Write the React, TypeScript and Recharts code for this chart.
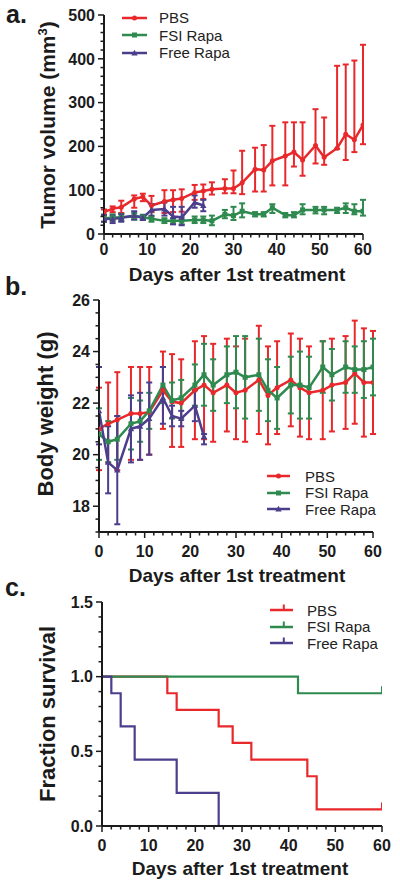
import React from 'react';
import { LineChart, Line, XAxis, YAxis, ErrorBar, Legend } from 'recharts';

const FONT = '"Liberation Sans", Arial, sans-serif';
const RED = '#e8282b';
const GREEN = '#2f8a4f';
const PURPLE = '#4c3e8c';
const INK = '#1b1b1b';

// a. tumor volume (mm3)
const tumorDays = [0, 2, 4, 7, 9, 11, 14, 16, 18, 21, 23, 25, 28, 30, 32, 35, 37, 39, 42, 44, 46, 49, 51, 54, 56, 58, 60];
const tumorPbs = [50, 58, 61, 80, 85, 65, 74, 78, 81, 95, 98, 102, 104, 104, 117, 148, 146, 167, 178, 187, 169, 202, 175, 196, 228, 215, 249];
const tumorPbsLow = [42, 50, 48, 60, 75, 50, 48, 50, 51, 78, 80, 90, 93, 93, 91, 97, 97, 111, 111, 154, 133, 161, 158, 194, 169, 187, 205];
const tumorPbsHigh = [56, 63, 76, 88, 92, 87, 100, 100, 102, 112, 113, 118, 125, 145, 190, 197, 203, 247, 255, 255, 255, 285, 266, 384, 387, 396, 432];
const tumorFsi = [36, 37, 38, 40, 38, 35, 30, 30, 30, 32, 32, 30, 45, 42, 52, 45, 45, 60, 43, 43, 55, 55, 55, 55, 60, 52, 52];
const tumorFsiLow = [28, 30, 30, 33, 33, 28, 25, 24, 22, 25, 25, 20, 36, 32, 38, 40, 40, 48, 38, 38, 45, 47, 45, 48, 48, 45, 42];
const tumorFsiHigh = [44, 45, 46, 48, 44, 42, 36, 36, 38, 40, 40, 42, 55, 62, 70, 50, 50, 68, 48, 50, 68, 62, 62, 60, 70, 68, 78];
const freeDays = [0, 2, 4, 7, 9, 11, 14, 16, 18, 21, 23];
const tumorFree = [35, 34, 37, 42, 37, 55, 57, 40, 38, 72, 65];
const tumorFreeLow = [28, 25, 28, 33, 32, 40, 42, 22, 20, 60, 52];
const tumorFreeHigh = [44, 42, 45, 52, 42, 68, 72, 62, 62, 88, 78];

// b. body weight (g)
const weightPbs = [21.0, 21.2, 21.35, 21.6, 21.6, 21.65, 22.5, 22.05, 22.0, 22.5, 22.7, 22.4, 22.7, 22.4, 22.5, 22.9, 22.3, 22.6, 22.9, 22.6, 22.4, 22.5, 22.7, 22.8, 23.15, 22.8, 22.8];
const weightPbsLow = [19.4, 19.7, 19.4, 19.8, 19.8, 20.0, 21.0, 20.3, 20.3, 20.6, 20.6, 20.5, 20.9, 20.6, 20.5, 20.8, 20.4, 20.8, 21.1, 20.7, 20.6, 20.6, 20.9, 21.0, 21.2, 20.7, 20.8];
const weightPbsHigh = [22.6, 22.8, 23.2, 23.4, 23.4, 23.4, 24.0, 23.9, 23.7, 24.4, 24.6, 24.3, 24.5, 24.2, 24.5, 25.0, 24.2, 24.4, 24.7, 24.5, 24.2, 24.4, 24.5, 24.6, 25.2, 24.9, 24.8];
const weightFsi = [20.8, 20.5, 20.6, 21.2, 21.3, 21.7, 22.7, 22.1, 22.2, 22.7, 23.1, 22.7, 23.1, 23.2, 23.0, 23.1, 22.5, 22.2, 22.7, 22.7, 22.6, 23.4, 23.1, 23.4, 23.3, 23.3, 23.4];
const weightFsiLow = [19.8, 19.7, 19.8, 20.2, 20.5, 21.0, 22.0, 21.4, 21.4, 21.9, 21.9, 21.7, 22.0, 21.8, 21.4, 21.7, 21.3, 21.0, 21.6, 21.4, 21.4, 22.4, 22.1, 22.4, 22.4, 22.2, 22.3];
const weightFsiHigh = [21.8, 21.3, 21.5, 22.2, 22.1, 22.4, 23.4, 22.8, 22.9, 23.5, 24.3, 23.7, 24.2, 24.6, 24.6, 24.5, 23.7, 23.4, 23.8, 24.0, 23.8, 24.4, 24.1, 24.4, 24.2, 24.4, 24.5];
const weightFree = [21.7, 19.7, 19.4, 21.0, 21.1, 21.4, 22.2, 21.5, 21.4, 21.9, 20.7];
const weightFreeLow = [20.4, 18.5, 17.3, 19.7, 19.8, 20.0, 21.2, 21.1, 21.1, 21.3, 20.4];
const weightFreeHigh = [23.4, 21.1, 21.5, 22.3, 22.4, 22.8, 23.4, 21.9, 21.7, 22.5, 20.8];

// c. survival
const survPbsDays = [0, 14, 16, 25, 28, 32, 44, 46, 60];
const survPbs = [1, 0.889, 0.778, 0.667, 0.556, 0.444, 0.333, 0.111, 0.111];
const survFsiDays = [0, 42, 60];
const survFsi = [1, 0.889, 0.889];
const survFreeDays = [0, 2, 4, 7, 16, 25];
const survFree = [1, 0.889, 0.667, 0.444, 0.222, 0];

const seriesNames = ['PBS', 'FSI Rapa', 'Free Rapa'];
const seriesColors = [RED, GREEN, PURPLE];
const seriesShapes = ['circle', 'square', 'triangle'];

const dayTicks: number[] = [];
for (let d = 0; d <= 60; d += 2) dayTicks.push(d);
const tumorTicks: number[] = [];
for (let v = 0; v <= 500; v += 20) tumorTicks.push(v);
const weightTicks: number[] = [];
for (let v = 17; v <= 26; v += 0.5) weightTicks.push(v);
const survTicks: number[] = [];
for (let i = 0; i <= 15; i++) survTicks.push(i / 10);

const withErr = (days: number[], mean: number[], low: number[], high: number[]) =>
  days.map((d, i) => ({ day: d, v: mean[i], err: [mean[i] - low[i], high[i] - mean[i]] }));
const steps = (days: number[], vals: number[]) => days.map((d, i) => ({ day: d, v: vals[i] }));

const shapeAt = (shape: string, cx: number, cy: number, color: string, key?: any) => {
  if (shape === 'square') return <rect key={key} x={cx - 2.5} y={cy - 2.5} width={5} height={5} fill={color} />;
  if (shape === 'triangle')
    return <path key={key} d={`M${cx},${cy - 3.2}L${cx + 3.2},${cy + 2.4}L${cx - 3.2},${cy + 2.4}Z`} fill={color} />;
  return <circle key={key} cx={cx} cy={cy} r={2.5} fill={color} />;
};

const marker = (shape: string, color: string) => (p: any) => {
  if (p.cx == null || p.cy == null) return <g key={p.index} />;
  return shapeAt(shape, p.cx, p.cy, color, p.index);
};

const censor = (color: string, last: number) => (p: any) => {
  if (p.index !== last || p.cy == null) return <g key={p.index} />;
  return <line key={p.index} x1={p.cx} x2={p.cx} y1={p.cy} y2={p.cy - 7} stroke={color} strokeWidth={2} />;
};

const xTick = (labelDy: number) => (p: any) => {
  const { x, y, payload } = p;
  const major = payload.value % 10 === 0;
  return (
    <g>
      <line x1={x} x2={x} y1={y} y2={y + (major ? 6 : 3.5)} stroke={INK} strokeWidth={1.5} />
      {major && (
        <text x={x} y={y + labelDy} textAnchor="middle" fontFamily={FONT} fontWeight="bold" fontSize={16} fill={INK}>
          {payload.value}
        </text>
      )}
    </g>
  );
};

const yTick = (isMajor: (v: number) => boolean, fmt: (v: number) => string) => (p: any) => {
  const { x, y, payload } = p;
  const major = isMajor(payload.value);
  return (
    <g>
      <line x1={x} x2={x - (major ? 6 : 3.5)} y1={y} y2={y} stroke={INK} strokeWidth={1.5} />
      {major && (
        <text x={x - 9} y={y} dy="0.36em" textAnchor="end" fontFamily={FONT} fontWeight="bold" fontSize={16} fill={INK}>
          {fmt(payload.value)}
        </text>
      )}
    </g>
  );
};

const legendBox = (kind: string, rowH: number, lineW: number, gap: number) => (props: any) => {
  const items = [...(props.payload || [])].sort(
    (a: any, b: any) => seriesNames.indexOf(a.value) - seriesNames.indexOf(b.value)
  );
  return (
    <div style={{ fontFamily: FONT, fontSize: 15, color: '#222' }}>
      {items.map((e: any) => {
        const idx = seriesNames.indexOf(e.value);
        return (
          <div key={e.value} style={{ display: 'flex', alignItems: 'center', height: rowH }}>
            <svg width={lineW} height={12} style={{ marginRight: gap, overflow: 'visible' }}>
              <line x1={0} x2={lineW} y1={6} y2={6} stroke={e.color} strokeWidth={2.5} />
              {kind === 'censor' ? (
                <line x1={lineW * 0.6} x2={lineW * 0.6} y1={6} y2={0.5} stroke={e.color} strokeWidth={2} />
              ) : (
                shapeAt(seriesShapes[idx], lineW / 2, 6, e.color)
              )}
            </svg>
            <span>{e.value}</span>
          </div>
        );
      })}
    </div>
  );
};

const axisLine = { stroke: INK, strokeWidth: 2 };

export default function App() {
  const tumorSets = [
    withErr(tumorDays, tumorPbs, tumorPbsLow, tumorPbsHigh),
    withErr(tumorDays, tumorFsi, tumorFsiLow, tumorFsiHigh),
    withErr(freeDays, tumorFree, tumorFreeLow, tumorFreeHigh),
  ];
  const weightSets = [
    withErr(tumorDays, weightPbs, weightPbsLow, weightPbsHigh),
    withErr(tumorDays, weightFsi, weightFsiLow, weightFsiHigh),
    withErr(freeDays, weightFree, weightFreeLow, weightFreeHigh),
  ];
  const survSets = [steps(survPbsDays, survPbs), steps(survFsiDays, survFsi), steps(survFreeDays, survFree)];

  return (
    <div style={{ position: 'absolute', left: 0, top: 0, width: 400, height: 886, background: '#fff' }}>
      <div style={{ position: 'absolute', left: 0, top: 0 }}>
        <LineChart width={400} height={290} margin={{ top: 15, right: 37, bottom: 26, left: 60 }}>
          <XAxis dataKey="day" type="number" domain={[0, 60]} ticks={dayTicks} interval={0} allowDataOverflow
            axisLine={axisLine} tickLine={false} tickSize={0} tickMargin={0} height={30} tick={xTick(21)} />
          <YAxis type="number" domain={[0, 500]} ticks={tumorTicks} interval={0} allowDataOverflow width={44}
            axisLine={axisLine} tickLine={false} tickSize={0} tickMargin={0}
            tick={yTick((v) => v % 100 === 0, (v) => String(v))} />
          {tumorSets.map((d, i) => (
            <Line key={seriesNames[i]} name={seriesNames[i]} data={d} dataKey="v" type="linear" stroke={seriesColors[i]}
              strokeWidth={2.5} dot={marker(seriesShapes[i], seriesColors[i])} activeDot={false} isAnimationActive={false}>
              <ErrorBar dataKey="err" direction="y" width={3} stroke={seriesColors[i]} strokeWidth={2} isAnimationActive={false} />
            </Line>
          ))}
          <Legend layout="vertical" align="center" verticalAlign="middle" wrapperStyle={{ left: 122, top: 9, width: 150 }}
            content={legendBox('marker', 17.5, 25, 12)} />
        </LineChart>
      </div>

      <div style={{ position: 'absolute', left: 0, top: 285 }}>
        <LineChart width={400} height={300} margin={{ top: 15, right: 27, bottom: 23, left: 55 }}>
          <XAxis dataKey="day" type="number" domain={[0, 60]} ticks={dayTicks} interval={0} allowDataOverflow
            axisLine={axisLine} tickLine={false} tickSize={0} tickMargin={0} height={30} tick={xTick(25)} />
          <YAxis type="number" domain={[17, 26]} ticks={weightTicks} interval={0} allowDataOverflow width={44}
            axisLine={axisLine} tickLine={false} tickSize={0} tickMargin={0}
            tick={yTick((v) => v % 2 === 0, (v) => String(v))} />
          {weightSets.map((d, i) => (
            <Line key={seriesNames[i]} name={seriesNames[i]} data={d} dataKey="v" type="linear" stroke={seriesColors[i]}
              strokeWidth={2.5} dot={marker(seriesShapes[i], seriesColors[i])} activeDot={false} isAnimationActive={false}>
              <ErrorBar dataKey="err" direction="y" width={3} stroke={seriesColors[i]} strokeWidth={2} isAnimationActive={false} />
            </Line>
          ))}
          <Legend layout="vertical" align="center" verticalAlign="middle" wrapperStyle={{ left: 267, top: 183, width: 130 }}
            content={legendBox('marker', 16.5, 23, 15)} />
        </LineChart>
      </div>

      <div style={{ position: 'absolute', left: 0, top: 590 }}>
        <LineChart width={400} height={296} margin={{ top: 12, right: 18, bottom: 30, left: 58 }}>
          <XAxis dataKey="day" type="number" domain={[0, 60]} ticks={dayTicks} interval={0} allowDataOverflow
            axisLine={axisLine} tickLine={false} tickSize={0} tickMargin={0} height={30} tick={xTick(25)} />
          <YAxis type="number" domain={[0, 1.5]} ticks={survTicks} interval={0} allowDataOverflow width={44}
            axisLine={axisLine} tickLine={false} tickSize={0} tickMargin={0}
            tick={yTick((v) => Math.round(v * 10) % 5 === 0, (v) => v.toFixed(1))} />
          {survSets.map((d, i) => (
            <Line key={seriesNames[i]} name={seriesNames[i]} data={d} dataKey="v" type="stepAfter" stroke={seriesColors[i]}
              strokeWidth={2.2} dot={censor(seriesColors[i], i < 2 ? d.length - 1 : -1)} activeDot={false}
              isAnimationActive={false} />
          ))}
          <Legend layout="vertical" align="center" verticalAlign="middle" wrapperStyle={{ left: 270, top: 12, width: 130 }}
            content={legendBox('censor', 16.5, 23, 14)} />
        </LineChart>
      </div>

      <svg width={400} height={886} style={{ position: 'absolute', left: 0, top: 0, pointerEvents: 'none' }}
        fontFamily={FONT} fontWeight="bold" fill={INK}>
        <text x={6} y={23} fontSize={25}>a.</text>
        <text x={5} y={295} fontSize={25}>b.</text>
        <text x={5} y={596} fontSize={25}>c.</text>
        <text x={237} y={281} fontSize={19} textAnchor="middle">Days after 1st treatment</text>
        <text x={237} y={582} fontSize={19} textAnchor="middle">Days after 1st treatment</text>
        <text x={240} y={875} fontSize={19} textAnchor="middle">Days after 1st treatment</text>
        <text transform="translate(55,125) rotate(-90)" fontSize={21} textAnchor="middle">
          Tumor volume (mm<tspan dy={-8} fontSize={13}>3</tspan><tspan dy={8}>)</tspan>
        </text>
        <text transform="translate(53,414) rotate(-90)" fontSize={22} textAnchor="middle">Body weight (g)</text>
        <text transform="translate(55,714) rotate(-90)" fontSize={22} textAnchor="middle">Fraction survival</text>
      </svg>
    </div>
  );
}
